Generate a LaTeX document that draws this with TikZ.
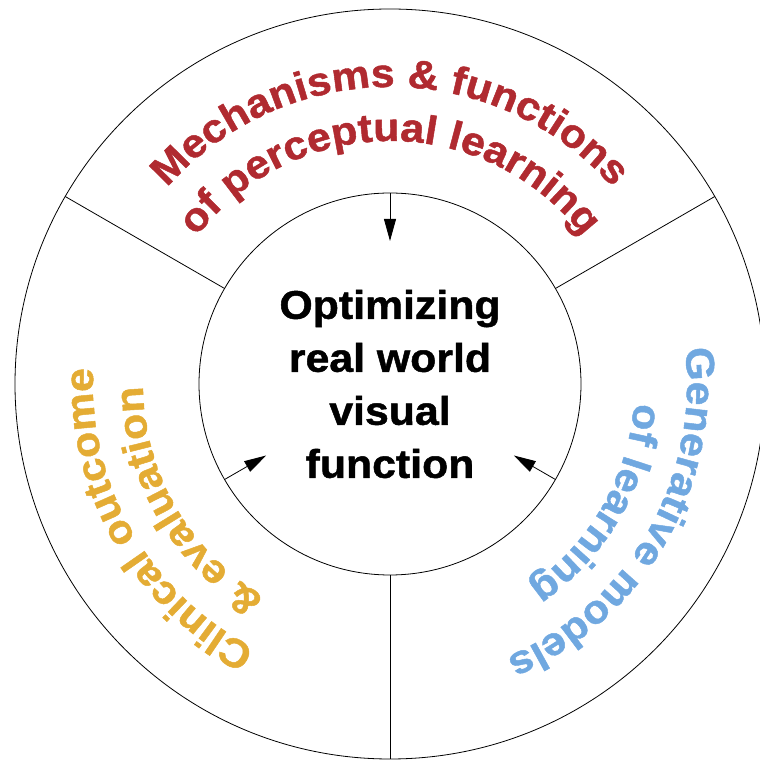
\documentclass[tikz,border=0pt]{standalone}
\usepackage{fontspec}
\setmainfont{Liberation Sans}
\newfontfamily\hv{Liberation Sans}[FakeStretch=1.07, BoldFeatures={FakeBold=1.2}]
\usetikzlibrary{arrows.meta,calc,decorations.text}
\definecolor{mred}{RGB}{176,42,48}
\definecolor{mgold}{RGB}{228,172,52}
\definecolor{mblue}{RGB}{112,168,224}
\tikzset{
  ring/.style={circle, draw, line width=0.8pt, inner sep=0pt, outer sep=0pt},
  divider/.style={line width=0.8pt},
  arr/.style={line width=0.8pt, -{Triangle[length=22pt,width=12pt]}},
  centertext/.style={font=\hv\fontsize{40}{53}\selectfont\bfseries, align=center},
  curved/.style={decorate, decoration={text along path, text align=center, text={#1}}}
}
\begin{document}
\begin{tikzpicture}[x=1pt,y=1pt]
\useasboundingbox (0,0) rectangle (760,764);
\clip (0,0) rectangle (760,764);
\coordinate (C) at (390,380);
\node[ring, minimum size=750pt] (outer) at (C) {};
\node[ring, minimum size=382pt, centertext] (inner) at (C) {Optimizing\\real world\\visual\\function};
\draw[divider] (inner.30) -- (outer.30);
\draw[divider] (inner.150) -- (outer.150);
\draw[divider] (inner.270) -- (outer.270);
\coordinate (t1) at ($(C)+(90:143)$);
\coordinate (t2) at ($(C)+(210:143)$);
\coordinate (t3) at ($(C)+(330:143)$);
\draw[arr] (inner.90) -- (t1);
\draw[arr] (inner.210) -- (t2);
\draw[arr] (inner.330) -- (t3);
% top sector
\path[curved={|\hv\fontsize{40}{40}\selectfont\bfseries\color{mred}|Mechanisms {\&} functions}]
  ($(C)+(150:297)$) arc[start angle=150, end angle=30, radius=297];
\path[curved={|\hv\fontsize{40}{40}\selectfont\bfseries\color{mred}|of perceptual learning}]
  ($(C)+(150:243)$) arc[start angle=150, end angle=30, radius=243];
% right sector
\path[curved={|\hv\fontsize{40}{40}\selectfont\bfseries\color{mblue}|Generative models}]
  ($(C)+(30:297)$) arc[start angle=30, end angle=-90, radius=297];
\path[curved={|\hv\fontsize{40}{40}\selectfont\bfseries\color{mblue}|of learning}]
  ($(C)+(30:245)$) arc[start angle=30, end angle=-90, radius=245];
% left sector
\path[curved={|\hv\fontsize{40}{40}\selectfont\bfseries\color{mgold}|Clinical outcome}]
  ($(C)+(270:297)$) arc[start angle=270, end angle=150, radius=297];
\path[curved={|\hv\fontsize{40}{40}\selectfont\bfseries\color{mgold}|{\&} evaluation}]
  ($(C)+(270:247)$) arc[start angle=270, end angle=150, radius=247];
\end{tikzpicture}
\end{document}
